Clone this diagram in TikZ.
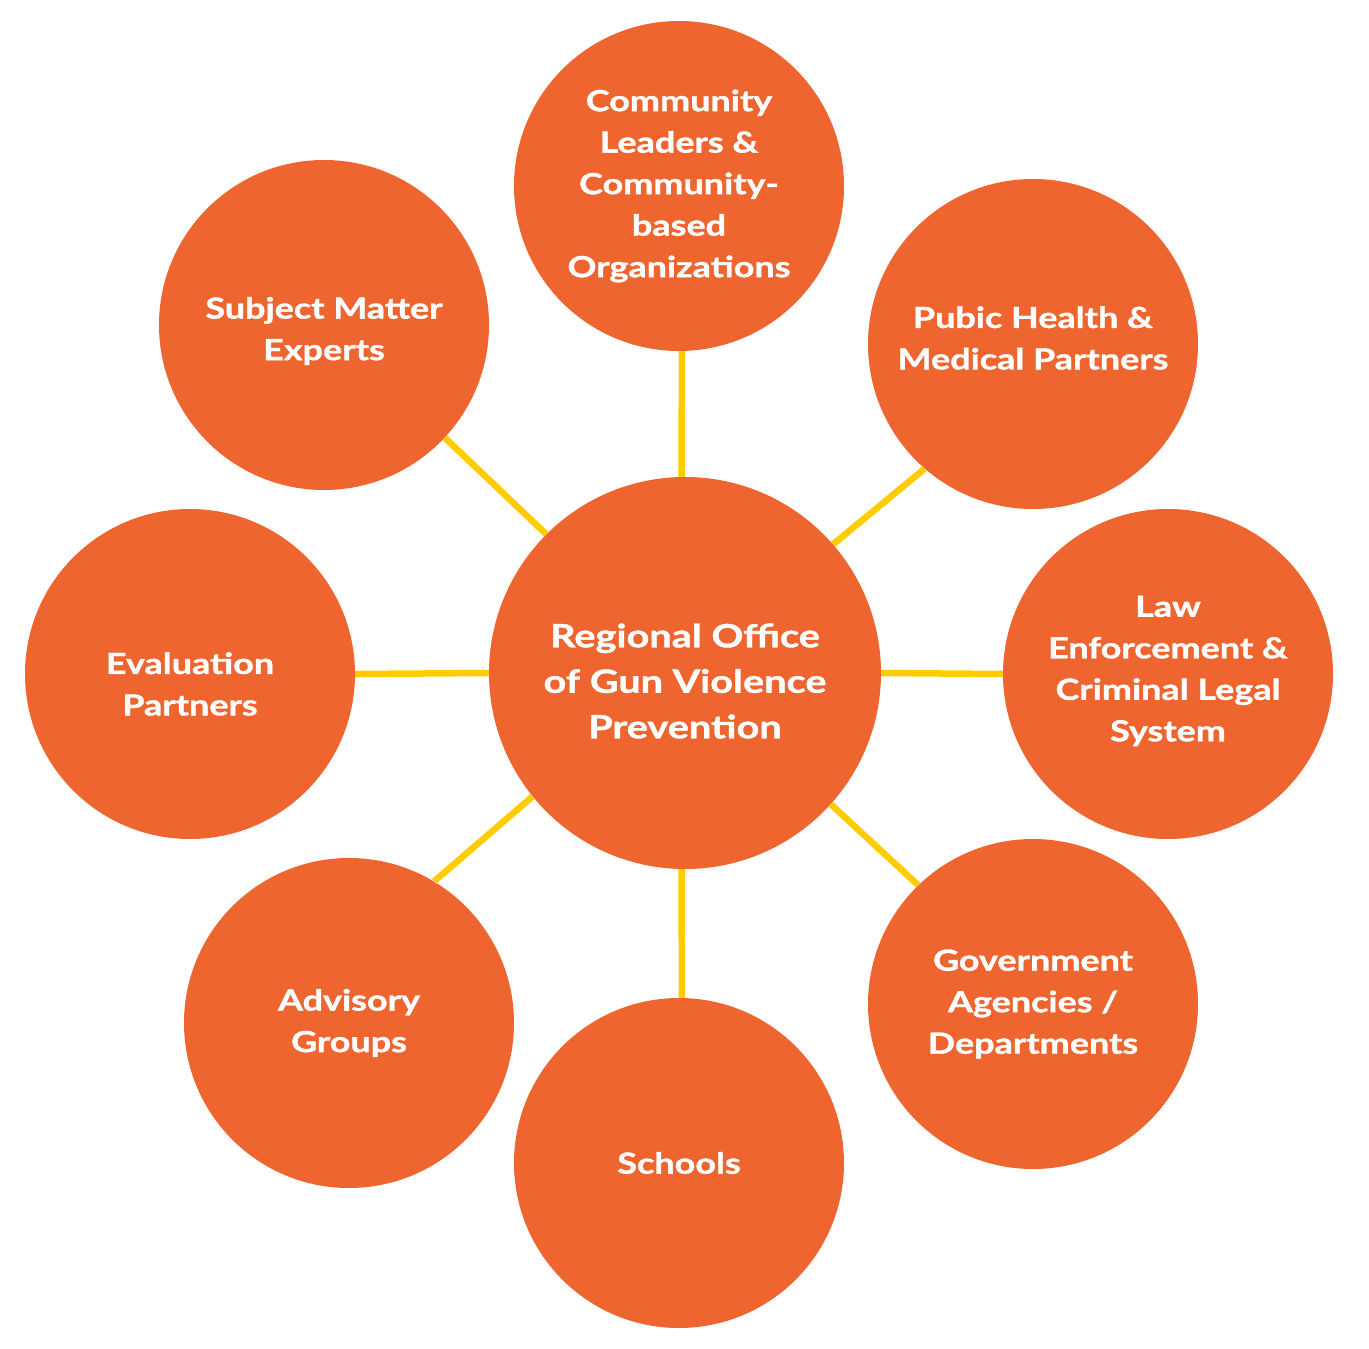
\documentclass[tikz,border=0pt]{standalone}
\usepackage{fontspec}
\setmainfont{Lato}[FakeStretch=1.24,BoldFeatures={FakeBold=1.2}]
\definecolor{orng}{RGB}{239,101,48}
\definecolor{ylw}{RGB}{255,204,0}
\begin{document}
\begin{tikzpicture}[x=1pt,y=-1pt,
  bubble/.style={circle,fill=orng,inner sep=0pt,minimum size=330pt},
  hub/.style={circle,fill=orng,inner sep=0pt,minimum size=392pt},
  lbl/.style={inner sep=0pt,text=white,align=center,font=\bfseries\fontsize{29}{41.5}\selectfont},
  hublbl/.style={inner sep=0pt,text=white,align=center,font=\bfseries\fontsize{32}{45.5}\selectfont},
  spoke/.style={draw=ylw,line width=6.5pt}]
\useasboundingbox (0,0) rectangle (1369,1349);
\node[hub] (main) at (685,673) {};
\node[bubble] (top) at (679,186) {};
\node[bubble] (sme) at (324,325) {};
\node[bubble] (ph) at (1033,344) {};
\node[bubble] (law) at (1168,674) {};
\node[bubble] (gov) at (1033,1004) {};
\node[bubble] (sch) at (679,1163) {};
\node[bubble] (adv) at (349,1023) {};
\node[bubble] (eval) at (190,674) {};
\node[hublbl] (mainT) at ([yshift=-8pt]main.center) {Regional Office\\of Gun Violence\\Prevention};
\node[lbl] (topT) at (top.center) {Community\\Leaders \&\\Community-\\based\\Organizations};
\node[lbl] (smeT) at ([yshift=-6pt]sme.center) {Subject Matter\\Experts};
\node[lbl] (phT) at ([yshift=6pt]ph.center) {Pubic Health \&\\Medical Partners};
\node[lbl] (lawT) at ([yshift=3pt]law.center) {Law\\Enforcement \&\\Criminal Legal\\System};
\node[lbl] (govT) at (gov.center) {Government\\Agencies /\\Departments};
\node[lbl] (schT) at (sch.center) {Schools};
\node[lbl] (advT) at (adv.center) {Advisory\\Groups};
\node[lbl] (evalT) at ([yshift=-10pt]eval.center) {Evaluation\\Partners};
\draw[spoke] (main.91) -- (top.-89);
\draw[spoke] (main.-91) -- (sch.89);
\draw[spoke] (main.0) -- (law.180);
\draw[spoke] (main.180) -- (eval.0);
\draw[spoke] (main.135) -- (sme.-43);
\draw[spoke] (main.41) -- (ph.229);
\draw[spoke] (main.-42.7) -- (gov.134.8);
\draw[spoke] (main.219.2) -- (adv.59.6);
\end{tikzpicture}
\end{document}
